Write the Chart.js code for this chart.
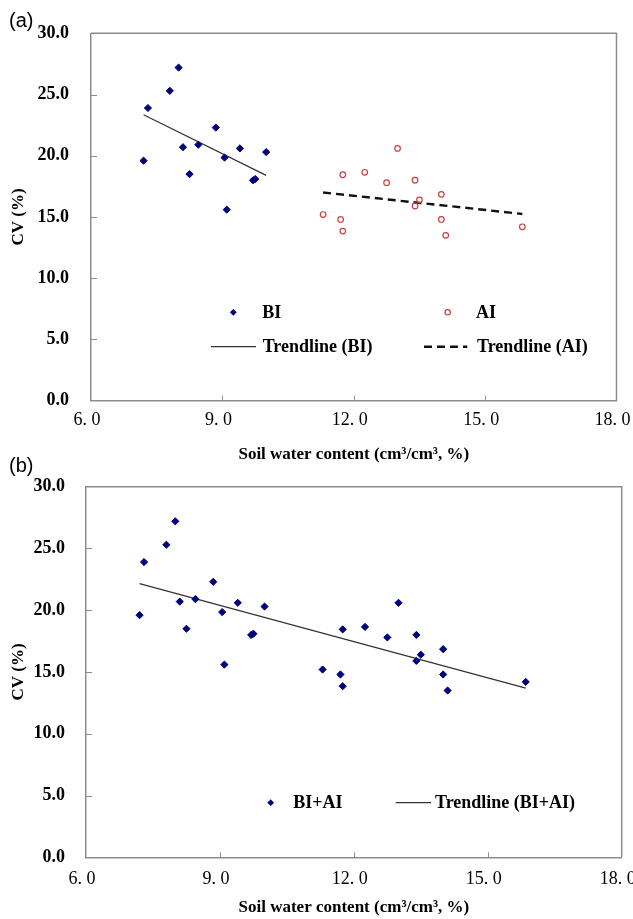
<!DOCTYPE html>
<html>
<head>
<meta charset="utf-8">
<title>CV vs soil water content</title>
<script src="https://cdn.jsdelivr.net/npm/chart.js@4.4.1/dist/chart.umd.min.js"></script>
<style>
  html, body { margin: 0; padding: 0; background: #fff; }
  #page { position: relative; width: 633px; height: 919px; overflow: hidden; }
  canvas { position: absolute; left: 0; }
  #chartA { top: 0; }
  #chartB { top: 450px; }
  .panel { position: absolute; left: 9px; font: 20px/20px "Liberation Sans", Arial, sans-serif; }
</style>
</head>
<body>
<div id="page">
  <canvas id="chartA" width="633" height="470"></canvas>
  <canvas id="chartB" width="633" height="469"></canvas>
  <div class="panel" style="top:10px">(a)</div>
  <div class="panel" style="top:455px">(b)</div>
</div>
<script>
// before irrigation
const biX = [7.2, 7.3, 7.8, 8.0, 8.1, 8.25, 8.45, 8.85, 9.05, 9.1, 9.4, 9.7, 9.75, 10.0];
const biY = [19.6, 23.9, 25.3, 27.2, 20.7, 18.5, 20.9, 22.3, 19.85, 15.6, 20.6, 18.0, 18.1, 20.3];
// after irrigation
const aiX = [11.3, 11.7, 11.75, 11.75, 12.25, 12.75, 13.0, 13.4, 13.4, 13.5, 14.0, 14.0, 14.1, 15.85];
const aiY = [15.2, 14.8, 13.85, 18.45, 18.65, 17.8, 20.6, 18.0, 15.9, 16.4, 16.85, 14.8, 13.5, 14.2];

// trendline end points as drawn
const trendBiX = [7.2, 10.0];
const trendBiY = [23.35, 18.4];
const trendAiX = [11.3, 15.85];
const trendAiY = [17.0, 15.25];
const trendAllX = [7.2, 15.85];
const trendAllY = [22.15, 13.7];

const xTickValues = [6, 9, 12, 15, 18];
const yTickValues = [0, 5, 10, 15, 20, 25, 30];

const NAVY = '#00007f';
const RED = '#c8413f';
const AXIS_GRAY = '#8c8c8c';
const SERIF = '"Liberation Serif", "Times New Roman", serif';

Chart.defaults.font.family = SERIF;
Chart.defaults.color = '#000';

function toPoints(xs, ys) {
  return xs.map((x, i) => ({ x: x, y: ys[i] }));
}

function makeScales(box) {
  return {
    x: {
      type: 'linear',
      min: 6,
      max: 18,
      afterBuildTicks: s => { s.ticks = xTickValues.map(v => ({ value: v })); },
      afterFit: s => { s.height = box.xHeight; s.paddingLeft = 0; s.paddingRight = 0; },
      ticks: {
        padding: box.xTickPad,
        labelOffset: -4,
        font: { size: 18 },
        maxRotation: 0,
        autoSkip: false,
        callback: v => v.toFixed(1).replace('.', '. ')
      },
      grid: { drawOnChartArea: false, drawTicks: false },
      border: { color: AXIS_GRAY, width: 1.5 },
      title: {
        display: true,
        text: 'Soil water content (cm³/cm³, %)',
        font: { size: 17, weight: 'bold' },
        padding: { top: 0, bottom: box.xTitlePad }
      }
    },
    y: {
      type: 'linear',
      min: 0,
      max: 30,
      afterBuildTicks: s => { s.ticks = yTickValues.map(v => ({ value: v })); },
      afterFit: s => { s.width = box.left; s.paddingTop = 0; s.paddingBottom = 0; },
      ticks: {
        padding: box.yTickPad,
        font: { size: 18, weight: 'bold' },
        callback: v => v.toFixed(1)
      },
      grid: { drawOnChartArea: false, drawTicks: false },
      border: { color: AXIS_GRAY, width: 1.5 },
      title: {
        display: true,
        text: 'CV (%)',
        font: { size: 17, weight: 'bold' },
        padding: { top: 8, bottom: 0 }
      }
    }
  };
}

// top/right plot border and the small inward tick marks
const framePlugin = {
  id: 'frame',
  beforeDatasetsDraw(chart) {
    const { ctx, chartArea: a, scales } = chart;
    ctx.save();
    ctx.strokeStyle = AXIS_GRAY;
    ctx.lineWidth = 1.5;
    ctx.beginPath();
    ctx.moveTo(a.left, a.top);
    ctx.lineTo(a.right, a.top);
    ctx.lineTo(a.right, a.bottom);
    ctx.stroke();
    ctx.lineWidth = 1;
    ctx.beginPath();
    xTickValues.slice(1, -1).forEach(v => {
      const px = Math.round(scales.x.getPixelForValue(v)) + 0.5;
      ctx.moveTo(px, a.bottom);
      ctx.lineTo(px, a.bottom - 5);
    });
    yTickValues.slice(1, -1).forEach(v => {
      const py = Math.round(scales.y.getPixelForValue(v)) + 0.5;
      ctx.moveTo(a.left, py);
      ctx.lineTo(a.left + 6, py);
    });
    ctx.stroke();
    ctx.restore();
  }
};

// legend drawn inside the plot, like the original spreadsheet chart
const legendPlugin = {
  id: 'innerLegend',
  afterDraw(chart, args, opts) {
    const ctx = chart.ctx;
    ctx.save();
    ctx.font = 'bold 18px ' + SERIF;
    ctx.textBaseline = 'middle';
    ctx.textAlign = 'left';
    (opts.items || []).forEach(it => {
      const ds = chart.data.datasets[it.ds];
      if (it.kind === 'marker') {
        ctx.beginPath();
        if (ds.pointStyle === 'rectRot') {
          const r = 3.4;
          ctx.moveTo(it.mx - r, it.y);
          ctx.lineTo(it.mx, it.y - r);
          ctx.lineTo(it.mx + r, it.y);
          ctx.lineTo(it.mx, it.y + r);
          ctx.closePath();
          ctx.fillStyle = ds.pointBackgroundColor;
          ctx.fill();
        } else {
          ctx.arc(it.mx, it.y, 2.7, 0, Math.PI * 2);
          ctx.strokeStyle = ds.pointBorderColor;
          ctx.lineWidth = 1.2;
          ctx.stroke();
        }
      } else {
        ctx.beginPath();
        ctx.strokeStyle = ds.borderColor;
        ctx.lineWidth = ds.borderWidth;
        ctx.setLineDash(ds.borderDash || []);
        ctx.moveTo(it.x0, it.y);
        ctx.lineTo(it.x1, it.y);
        ctx.stroke();
        ctx.setLineDash([]);
      }
      ctx.fillStyle = '#000';
      ctx.fillText(ds.label, it.tx, it.y + 1);
    });
    ctx.restore();
  }
};

function baseOptions(box, items) {
  return {
    responsive: false,
    animation: false,
    events: [],
    layout: { padding: { left: 0, top: box.top, right: 633 - box.right, bottom: 0 } },
    scales: makeScales(box),
    plugins: {
      legend: { display: false },
      tooltip: { enabled: false },
      innerLegend: { items: items }
    }
  };
}

const boxA = { left: 91, right: 616.5, top: 33.3, xHeight: 69.3, xTickPad: 8.5, xTitlePad: 4.8, yTickPad: 22 };
const boxB = { left: 86, right: 621.7, top: 36.7, xHeight: 61.7, xTickPad: 11, xTitlePad: 1, yTickPad: 21 };

new Chart(document.getElementById('chartA'), {
  type: 'scatter',
  data: {
    datasets: [
      {
        label: 'BI',
        data: toPoints(biX, biY),
        pointStyle: 'rectRot',
        pointRadius: 3.6,
        pointBackgroundColor: NAVY,
        pointBorderColor: NAVY,
        pointBorderWidth: 1
      },
      {
        label: 'AI',
        data: toPoints(aiX, aiY),
        pointStyle: 'circle',
        pointRadius: 2.8,
        pointBackgroundColor: 'rgba(255,255,255,0)',
        pointBorderColor: RED,
        pointBorderWidth: 1.2
      },
      {
        label: 'Trendline (BI)',
        data: toPoints(trendBiX, trendBiY),
        showLine: true,
        pointRadius: 0,
        borderColor: '#333333',
        borderWidth: 1.2
      },
      {
        label: 'Trendline (AI)',
        data: toPoints(trendAiX, trendAiY),
        showLine: true,
        pointRadius: 0,
        borderColor: '#111111',
        borderWidth: 2.4,
        borderDash: [8, 5]
      }
    ]
  },
  options: baseOptions(boxA, [
    { ds: 0, kind: 'marker', mx: 233.3, y: 312.3, tx: 262.3 },
    { ds: 1, kind: 'marker', mx: 447.7, y: 312.3, tx: 476 },
    { ds: 2, kind: 'line', x0: 211, x1: 256, y: 346.7, tx: 262.7 },
    { ds: 3, kind: 'line', x0: 424, x1: 467.3, y: 346.7, tx: 477 }
  ]),
  plugins: [framePlugin, legendPlugin]
});

new Chart(document.getElementById('chartB'), {
  type: 'scatter',
  data: {
    datasets: [
      {
        label: 'BI+AI',
        data: toPoints(biX.concat(aiX), biY.concat(aiY)),
        pointStyle: 'rectRot',
        pointRadius: 3.6,
        pointBackgroundColor: NAVY,
        pointBorderColor: NAVY,
        pointBorderWidth: 1
      },
      {
        label: 'Trendline (BI+AI)',
        data: toPoints(trendAllX, trendAllY),
        showLine: true,
        pointRadius: 0,
        borderColor: '#333333',
        borderWidth: 1.2
      }
    ]
  },
  options: baseOptions(boxB, [
    { ds: 0, kind: 'marker', mx: 270.7, y: 352.7, tx: 293.3 },
    { ds: 1, kind: 'line', x0: 395.7, x1: 431, y: 352.7, tx: 435 }
  ]),
  plugins: [framePlugin, legendPlugin]
});
</script>
</body>
</html>
